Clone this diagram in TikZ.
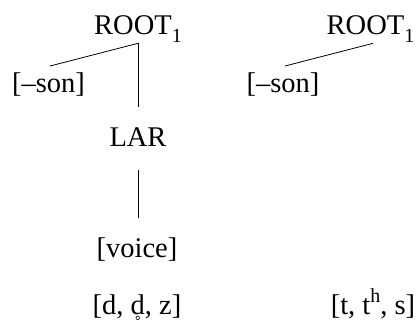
\documentclass[tikz,border=0pt]{standalone}
\usepackage{fontspec}
\setmainfont{Liberation Serif}
\newcommand{\mysub}[1]{\raisebox{-0.25em}{\fontsize{20}{21}\selectfont #1}}
\newcommand{\mysup}[1]{\raisebox{0.42em}{\fontsize{20}{21}\selectfont #1}}
\newcommand{\ringd}{{\ooalign{d\cr\hidewidth\raisebox{-0.62em}{\fontsize{21}{21}\selectfont\char"02DA}\hidewidth\cr}}}
\begin{document}
\begin{tikzpicture}[x=1pt,y=1pt,
  lbl/.style={inner sep=0pt, anchor=base, font=\fontsize{28.5}{31}\selectfont},
  edge/.style={line width=0.8pt}]
\useasboundingbox (0,0) rectangle (417,329);
% left tree
\node[lbl] (rootL) at (138,294) {ROOT\mysub{1}};
\node[lbl] (sonL) at (48.5,236) {[–son]};
\node[lbl] (lar) at (138,182) {LAR};
\node[lbl] (voice) at (137,71) {[voice]};
\node[lbl] (dset) at (137,15) {[d, \ringd, z]};
% right tree
\node[lbl] (rootR) at (370.5,294) {ROOT\mysub{1}};
\node[lbl] (sonR) at (283,236) {[–son]};
\node[lbl] (tset) at (373,15) {[t, t\mysup{h}, s]};
% connectors
\draw[edge] ([yshift=-1pt]rootL.south) -- ([xshift=1.5pt,yshift=7pt]sonL.north);
\draw[edge] ([yshift=-1pt]rootL.south) -- ([yshift=21pt]lar.north -| rootL.south);
\draw[edge] ([yshift=-23pt]lar.south -| rootL.south) -- ([yshift=20pt]voice.north -| rootL.south);
\draw[edge] ([xshift=2.5pt,yshift=-1pt]rootR.south) -- ([xshift=2pt,yshift=7pt]sonR.north);
\end{tikzpicture}
\end{document}
